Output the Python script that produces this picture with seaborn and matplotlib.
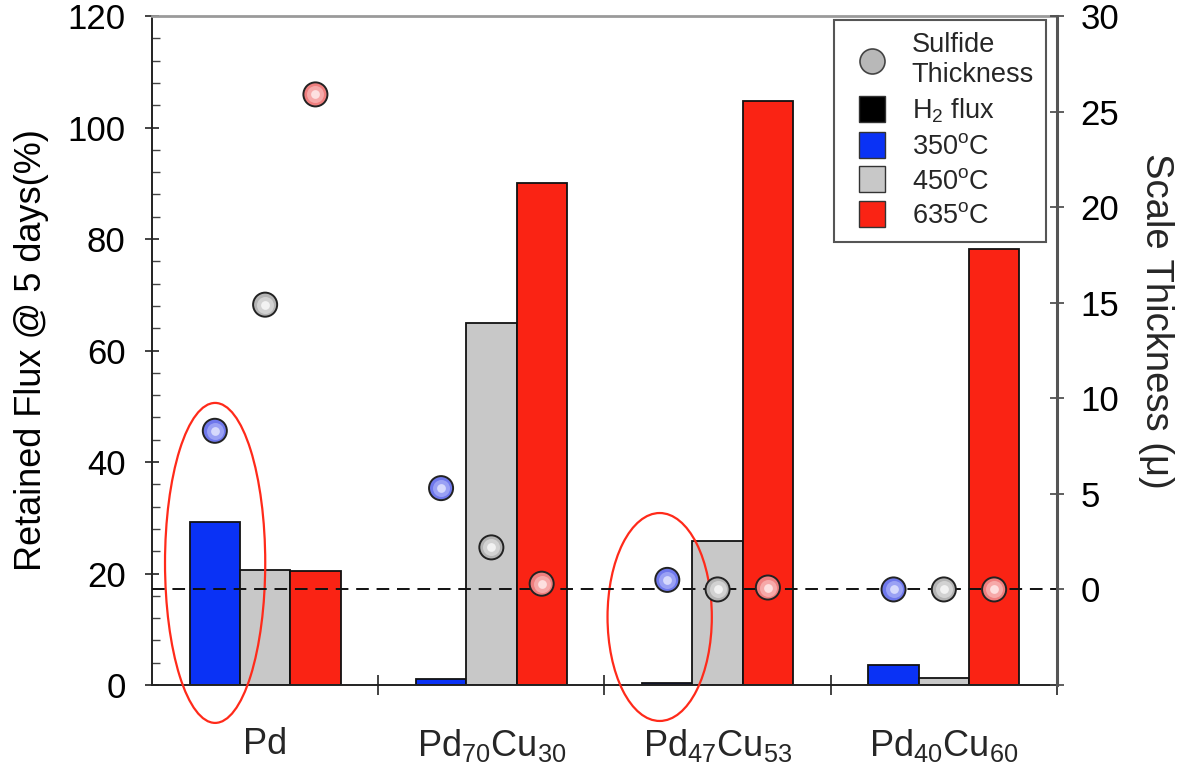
import numpy as np
import pandas as pd
import matplotlib
matplotlib.use("Agg")
import matplotlib.pyplot as plt
from matplotlib.lines import Line2D
from matplotlib.patches import Ellipse
import seaborn as sns

# ---- data -------------------------------------------------------------
alloys = ["Pd", "Pd70Cu30", "Pd47Cu53", "Pd40Cu60"]
alloy_labels = [r"Pd", r"Pd$_{70}$Cu$_{30}$", r"Pd$_{47}$Cu$_{53}$", r"Pd$_{40}$Cu$_{60}$"]
temps = ["350", "450", "635"]

# retained H2 flux after 5 days (%), per temperature
flux_350 = [29.2, 1.1, 0.3, 3.6]
flux_450 = [20.6, 64.9, 25.8, 1.3]
flux_635 = [20.4, 90.0, 104.8, 78.2]

# sulfide scale thickness (micron), per temperature
thick_350 = [8.3, 5.3, 0.5, 0.0]
thick_450 = [14.9, 2.2, 0.0, 0.0]
thick_635 = [25.9, 0.3, 0.1, 0.0]

left_ticks = [0, 20, 40, 60, 80, 100, 120]
right_ticks = [-5, 0, 5, 10, 15, 20, 25, 30]

# ---- styling ----------------------------------------------------------
sns.set_theme(style="white")
plt.rcParams["font.family"] = ["Liberation Sans", "DejaVu Sans"]
plt.rcParams["mathtext.fontset"] = "custom"
plt.rcParams["mathtext.rm"] = "Liberation Sans"
plt.rcParams["mathtext.it"] = "Liberation Sans:italic"
plt.rcParams["mathtext.bf"] = "Liberation Sans:bold"
plt.rcParams["mathtext.default"] = "regular"

bar_colors = {"350": "#0a32f5", "450": "#c8c8c8", "635": "#fa2314"}
dot_base = {"350": "#6f78ec", "450": "#b4b4b4", "635": "#ef7f7f"}
dot_mid = {"350": "#9aa1f4", "450": "#d2d2d2", "635": "#f6a9a9"}
dot_core = {"350": "#d6d9fc", "450": "#f2f2f2", "635": "#fde0e0"}

flux_df = pd.DataFrame({
    "alloy": np.repeat(alloys, 3),
    "temp": temps * len(alloys),
    "flux": np.ravel(np.column_stack([flux_350, flux_450, flux_635])),
})
thick_df = pd.DataFrame({
    "alloy": np.repeat(alloys, 3),
    "temp": temps * len(alloys),
    "thick": np.ravel(np.column_stack([thick_350, thick_450, thick_635])),
})

group_width = 0.667
offsets = {t: (i - 1) * group_width / 3 for i, t in enumerate(temps)}
thick_df["xpos"] = [alloys.index(a) + offsets[t] for a, t in zip(thick_df["alloy"], thick_df["temp"])]

fig = plt.figure(figsize=(11.82, 7.64), dpi=100)
ax = fig.add_axes([0.1286, 0.1034, 0.7656, 0.8756])

sns.barplot(data=flux_df, x="alloy", y="flux", hue="temp", hue_order=temps,
            order=alloys, palette=bar_colors, width=group_width, saturation=1,
            edgecolor="#111111", linewidth=1.3, legend=False, ax=ax, zorder=2)

ax.set_xlim(-0.5, 3.5)
ax.set_ylim(0, 120)
ax.set_xlabel("")
ax.set_ylabel("Retained Flux @ 5 days(%)", fontsize=26, labelpad=13)
ax.set_yticks(left_ticks)
ax.set_yticks(np.arange(0, 121, 4), minor=True)
ax.tick_params(axis="y", which="major", direction="inout", length=10, width=1.2,
               labelsize=25, pad=14, left=True, colors="#222222")
ax.tick_params(axis="y", which="minor", direction="in", length=6, width=1.0, left=True,
               color="#444444")
ax.yaxis.label.set_color("black")
for lbl in ax.get_yticklabels():
    lbl.set_color("black")

# category labels centred under each group, boundary ticks between groups
ax.set_xticks([0.5, 1.5, 2.5, 3.5])
ax.set_xticklabels([])
ax.tick_params(axis="x", which="major", direction="inout", length=14, width=1.2,
               bottom=True, color="#222222")
ax.set_xticks(range(len(alloys)), minor=True)
ax.set_xticklabels(alloy_labels, minor=True, fontsize=26)
ax.tick_params(axis="x", which="minor", length=0, pad=30)

for side in ["left", "bottom"]:
    ax.spines[side].set_color("#222222")
    ax.spines[side].set_linewidth(1.4)
ax.spines["top"].set_color("#9a9a9a")
ax.spines["top"].set_linewidth(2.0)
ax.spines["right"].set_visible(False)

# ---- sulfide thickness on a secondary axis ---------------------------
ax2 = ax.twinx()
ax2.set_ylim(-5, 30)
ax2.axhline(0, color="#111111", lw=1.4, dashes=(6.5, 4), zorder=1)

sns.scatterplot(data=thick_df, x="xpos", y="thick", hue="temp", hue_order=temps,
                palette=dot_base, s=300, edgecolor="#222222", linewidth=1.4,
                legend=False, ax=ax2, zorder=3)
for t in temps:
    sub = thick_df[thick_df["temp"] == t]
    ax2.scatter(sub["xpos"], sub["thick"], s=150, color=dot_mid[t], lw=0, zorder=4)
    ax2.scatter(sub["xpos"], sub["thick"], s=40, color=dot_core[t], lw=0, zorder=5)

ax2.set_xlim(-0.5, 3.5)
ax2.set_yticks(right_ticks)
ax2.set_yticklabels(["" if v < 0 else str(v) for v in right_ticks], fontsize=25)
ax2.tick_params(axis="y", direction="inout", length=10, width=1.2, right=True,
                pad=12, color="#444444", labelcolor="black")
ax2.set_ylabel("Scale Thickness (μ)", fontsize=27.5, rotation=270, va="center")
ax2.yaxis.set_label_coords(1.11, 0.545)
ax2.set_xlabel("")
ax2.spines["right"].set_color("#555555")
ax2.spines["right"].set_linewidth(2.2)
for side in ["left", "top", "bottom"]:
    ax2.spines[side].set_visible(False)

# highlight ellipses around the groups of interest
for (cx, cy, w, h) in [(-0.221, 21.9, 0.443, 57.4), (1.744, 12.2, 0.461, 37.3)]:
    ax.add_patch(Ellipse((cx, cy), w, h, fill=False, edgecolor="#ff2a1a", lw=1.6,
                         clip_on=False, zorder=6))

# ---- legend -----------------------------------------------------------
handles = [
    Line2D([], [], ls="", marker="o", markersize=18, markerfacecolor="#b8b8b8",
           markeredgecolor="#444444", markeredgewidth=1.2),
    Line2D([], [], ls="", marker="s", markersize=19, markerfacecolor="black",
           markeredgecolor="#333333"),
    Line2D([], [], ls="", marker="s", markersize=19, markerfacecolor=bar_colors["350"],
           markeredgecolor="#333333"),
    Line2D([], [], ls="", marker="s", markersize=19, markerfacecolor=bar_colors["450"],
           markeredgecolor="#333333"),
    Line2D([], [], ls="", marker="s", markersize=19, markerfacecolor=bar_colors["635"],
           markeredgecolor="#333333"),
]
labels = ["Sulfide\nThickness", r"H$_2$ flux", r"350$^{o}$C", r"450$^{o}$C", r"635$^{o}$C"]
leg = ax2.legend(handles, labels, loc="upper right", bbox_to_anchor=(0.991, 0.998),
                 fontsize=19.5, frameon=True, fancybox=False, edgecolor="#555555",
                 framealpha=1, labelspacing=0.32, handletextpad=0.5, borderpad=0.45,
                 borderaxespad=0.1, handlelength=1.9)
leg.get_frame().set_linewidth(1.5)
leg.set_zorder(10)

fig.savefig("out.png", dpi=100, facecolor="white")
